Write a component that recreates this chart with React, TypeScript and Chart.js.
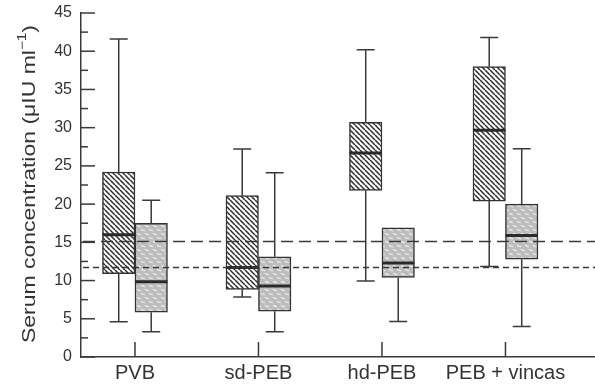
import React, { useEffect, useRef } from 'react';
import { Chart, registerables } from 'chart.js';

Chart.register(...registerables);

const categories = ['PVB', 'sd-PEB', 'hd-PEB', 'PEB + vincas'];

// Hatched series (first box of each group): min, Q1, median, Q3, max
const hatchMin = [4.6, 7.85, 9.95, 11.85];
const hatchQ1 = [10.9, 8.85, 21.8, 20.4];
const hatchMedian = [16.0, 11.7, 26.7, 29.65];
const hatchQ3 = [24.2, 21.1, 30.7, 38.0];
const hatchMax = [41.6, 27.2, 40.2, 41.8];

// Stippled series (second box of each group)
const dotMin = [3.3, 3.3, 4.65, 4.0];
const dotQ1 = [5.85, 6.0, 10.4, 12.8];
const dotMedian = [9.85, 9.3, 12.3, 15.9];
const dotQ3 = [17.5, 13.1, 16.9, 20.0];
const dotMax = [20.5, 24.1, 16.9, 27.25];

// Reference lines
const refUpper = 15.1;
const refLower = 11.7;

const yTicksMajor = [0, 5, 10, 15, 20, 25, 30, 35, 40, 45];

const FONT = "'Liberation Sans', Arial, Helvetica, sans-serif";
const INK = '#333333';

function makeHatch(): CanvasPattern | string {
  const s = 5;
  const c = document.createElement('canvas');
  c.width = s;
  c.height = s;
  const g = c.getContext('2d');
  if (!g) return '#fff';
  g.fillStyle = '#ffffff';
  g.fillRect(0, 0, s, s);
  g.strokeStyle = '#2c2c2c';
  g.lineWidth = 1.5;
  for (let k = -1; k <= 1; k++) {
    g.beginPath();
    g.moveTo(k * s, 0);
    g.lineTo(k * s + s, s);
    g.stroke();
  }
  return g.createPattern(c, 'repeat') || '#fff';
}

function makeStipple(): CanvasPattern | string {
  const w = 8;
  const h = 8;
  const c = document.createElement('canvas');
  c.width = w;
  c.height = h;
  const g = c.getContext('2d');
  if (!g) return '#bbb';
  g.fillStyle = '#bdbdbd';
  g.fillRect(0, 0, w, h);
  g.strokeStyle = '#ececec';
  g.lineWidth = 1.3;
  g.beginPath();
  g.moveTo(1, 1.3);
  g.lineTo(5, 2.8);
  g.moveTo(5, 5.3);
  g.lineTo(9, 6.8);
  g.moveTo(-3, 5.3);
  g.lineTo(1, 6.8);
  g.stroke();
  return g.createPattern(c, 'repeat') || '#bbb';
}

const statsList = [
  { min: hatchMin, q1: hatchQ1, med: hatchMedian, q3: hatchQ3, max: hatchMax },
  { min: dotMin, q1: dotQ1, med: dotMedian, q3: dotQ3, max: dotMax },
];

const extrasPlugin = {
  id: 'boxExtras',
  afterDatasetsDraw(chart: any) {
    const ctx: CanvasRenderingContext2D = chart.ctx;
    const xs = chart.scales.x;
    const ys = chart.scales.y;
    const area = chart.chartArea;
    ctx.save();

    // whiskers and medians
    statsList.forEach((st, di) => {
      const meta = chart.getDatasetMeta(di);
      meta.data.forEach((bar: any, i: number) => {
        const { x: cx, width } = bar.getProps(['x', 'width'], true);
        const left = cx - width / 2;
        const right = cx + width / 2;
        const cap = 9;
        ctx.strokeStyle = '#3a3a3a';
        ctx.lineWidth = 1.5;
        ctx.setLineDash([]);
        if (st.max[i] > st.q3[i]) {
          const yTop = ys.getPixelForValue(st.max[i]);
          const yQ3 = ys.getPixelForValue(st.q3[i]);
          ctx.beginPath();
          ctx.moveTo(cx, yQ3);
          ctx.lineTo(cx, yTop);
          ctx.moveTo(cx - cap, yTop);
          ctx.lineTo(cx + cap, yTop);
          ctx.stroke();
        }
        if (st.min[i] < st.q1[i]) {
          const yBot = ys.getPixelForValue(st.min[i]);
          const yQ1 = ys.getPixelForValue(st.q1[i]);
          ctx.beginPath();
          ctx.moveTo(cx, yQ1);
          ctx.lineTo(cx, yBot);
          ctx.moveTo(cx - cap, yBot);
          ctx.lineTo(cx + cap, yBot);
          ctx.stroke();
        }
        const yMed = ys.getPixelForValue(st.med[i]);
        ctx.strokeStyle = '#2a2a2a';
        ctx.lineWidth = 3;
        ctx.beginPath();
        ctx.moveTo(left, yMed);
        ctx.lineTo(right, yMed);
        ctx.stroke();
      });
    });

    // dashed reference lines
    ctx.strokeStyle = '#3a3a3a';
    ctx.lineWidth = 1.5;
    const yU = ys.getPixelForValue(refUpper);
    ctx.setLineDash([12, 6]);
    ctx.beginPath();
    ctx.moveTo(area.left + 2, yU);
    ctx.lineTo(area.right, yU);
    ctx.stroke();
    const yL = ys.getPixelForValue(refLower);
    ctx.setLineDash([6, 4]);
    ctx.beginPath();
    ctx.moveTo(area.left + 2, yL);
    ctx.lineTo(area.right, yL);
    ctx.stroke();
    ctx.setLineDash([]);

    // inward tick marks on y axis (major and minor)
    ctx.strokeStyle = '#3a3a3a';
    ctx.lineWidth = 1.5;
    yTicksMajor.forEach((v) => {
      const py = ys.getPixelForValue(v);
      ctx.beginPath();
      ctx.moveTo(area.left, py);
      ctx.lineTo(area.left + 14, py);
      ctx.stroke();
      if (v < 45) {
        const pm = ys.getPixelForValue(v + 2.5);
        ctx.beginPath();
        ctx.moveTo(area.left, pm);
        ctx.lineTo(area.left + 7, pm);
        ctx.stroke();
      }
    });
    // inward category ticks on x axis
    categories.forEach((_, i) => {
      const px = xs.getPixelForValue(i);
      ctx.beginPath();
      ctx.moveTo(px, area.bottom);
      ctx.lineTo(px, area.bottom - 15);
      ctx.stroke();
    });

    // y-axis title with superscript
    const main = 'Serum concentration (\u03bcIU ml';
    const sup = '\u22121';
    const tail = ')';
    const fMain = `18px ${FONT}`;
    const fSup = `12px ${FONT}`;
    ctx.font = fMain;
    const wMain = ctx.measureText(main).width;
    const wTail = ctx.measureText(tail).width;
    ctx.font = fSup;
    const wSup = ctx.measureText(sup).width;
    const total = wMain + wSup + wTail;
    const target = 318;
    const cy = 184;
    ctx.translate(30, cy);
    ctx.rotate(-Math.PI / 2);
    ctx.scale(target / total, 1);
    ctx.fillStyle = INK;
    ctx.textBaseline = 'middle';
    ctx.textAlign = 'left';
    let xx = -total / 2;
    ctx.font = fMain;
    ctx.fillText(main, xx, 0);
    xx += wMain;
    ctx.font = fSup;
    ctx.fillText(sup, xx, -7);
    xx += wSup;
    ctx.font = fMain;
    ctx.fillText(tail, xx, 0);

    ctx.restore();
  },
};

export default function App() {
  const ref = useRef<HTMLCanvasElement | null>(null);

  useEffect(() => {
    document.body.style.margin = '0';
    document.body.style.background = '#ffffff';
    const canvas = ref.current;
    if (!canvas) return;
    const hatch = makeHatch();
    const stipple = makeStipple();

    const chart = new Chart(canvas, {
      type: 'bar',
      data: {
        datasets: [
          {
            label: 'hatched',
            data: categories.map((_, i) => ({ x: i, y: [hatchQ1[i], hatchQ3[i]] })) as any,
            backgroundColor: hatch as any,
            borderColor: INK,
            borderWidth: 1.5,
            borderSkipped: false,
            barThickness: 32.5,
          },
          {
            label: 'stippled',
            data: categories.map((_, i) => ({ x: i, y: [dotQ1[i], dotQ3[i]] })) as any,
            backgroundColor: stipple as any,
            borderColor: INK,
            borderWidth: 1.5,
            borderSkipped: false,
            barThickness: 32.5,
          },
        ],
      },
      options: {
        animation: false,
        responsive: false,
        devicePixelRatio: 1,
        layout: { padding: { top: 13, right: 0, left: 0, bottom: 0 } },
        plugins: {
          legend: { display: false },
          tooltip: { enabled: false },
          title: { display: false },
        },
        scales: {
          x: {
            type: 'linear',
            offset: false,
            min: -0.437,
            max: 3.725,
            afterBuildTicks: (s: any) => {
              s.ticks = categories.map((_, i) => ({ value: i }));
            },
            afterFit: (s: any) => {
              s.height = 30;
            },
            grid: { display: false, drawTicks: false, offset: false },
            border: { display: true, color: '#3a3a3a', width: 1.5 },
            ticks: {
              autoSkip: false,
              maxRotation: 0,
              minRotation: 0,
              padding: 4,
              color: INK,
              font: { size: 20, family: FONT },
              callback: (v: any) => categories[Math.round(Number(v))] ?? '',
            },
          },
          y: {
            min: 0,
            max: 45,
            afterFit: (s: any) => {
              s.width = 81;
            },
            grid: {
              display: true,
              drawOnChartArea: false,
              drawTicks: true,
              tickLength: 9,
              color: 'rgba(0,0,0,0)',
            },
            border: { display: true, color: '#3a3a3a', width: 1.5 },
            ticks: {
              stepSize: 5,
              autoSkip: false,
              padding: 0,
              color: INK,
              font: { size: 16, family: FONT },
            },
          },
        },
      },
      plugins: [extrasPlugin],
    });

    return () => {
      chart.destroy();
    };
  }, []);

  return (
    <div style={{ width: 595, height: 387, background: '#fff' }}>
      <canvas ref={ref} width={595} height={387} style={{ display: 'block' }} />
    </div>
  );
}
